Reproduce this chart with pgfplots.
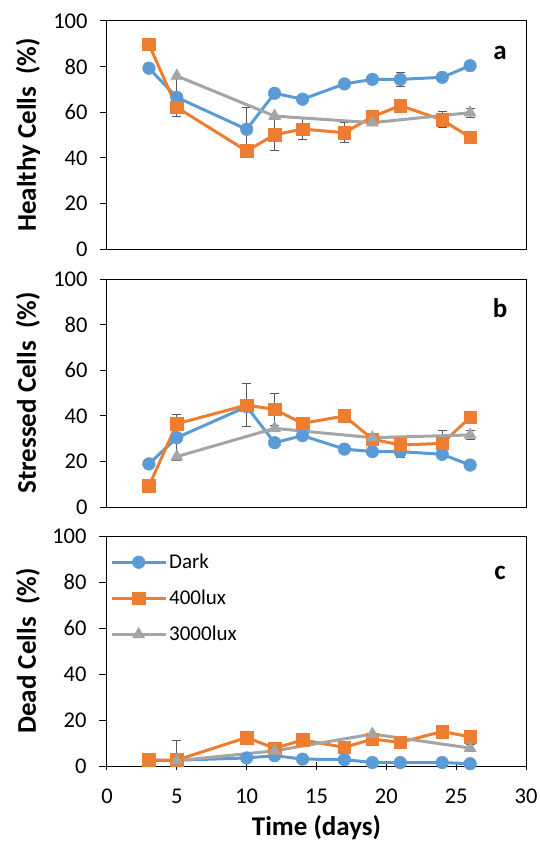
\documentclass[border=0pt]{standalone}
\usepackage{fontspec}
\setmainfont{Carlito}
\usepackage{pgfplots}
\pgfplotsset{compat=1.18}
\definecolor{cblue}{HTML}{5B9BD5}
\definecolor{corange}{HTML}{ED7D31}
\definecolor{cgray}{HTML}{A5A5A5}
\definecolor{errc}{HTML}{595959}
\tikzset{letter/.style={font=\bfseries\fontsize{27bp}{27bp}\selectfont, anchor=base}}
\pgfplotsset{
  panel/.style={
    scale only axis, width=419bp, height=228bp,
    xmin=0, xmax=30, ymin=0, ymax=100,
    ytick={0,20,...,100},
    axis line style={line width=1bp, black},
    every tick/.style={line width=1bp, black},
    ytick align=outside, ytick pos=left, xtick pos=bottom,
    major tick length=7bp,
    tick label style={font=\fontsize{22.5bp}{24bp}\selectfont},
    yticklabel style={xshift=-9bp},
    /pgf/number format/assume math mode=true,
    label style={font=\bfseries\fontsize{27bp}{28bp}\selectfont},
    ylabel style={at={(axis description cs:-0.1885,0.5)}, anchor=center},
    clip=false,
    legend image code/.code={\draw[mark repeat=2,mark phase=2,##1] plot coordinates {(0bp,0bp)(27bp,0bp)(54bp,0bp)};},
  },
  sdark/.style={color=cblue, line width=3bp, mark=*, mark size=6.3bp, mark options={solid, fill=cblue, draw=cblue, line width=0.5bp}},
  sorange/.style={color=corange, line width=3bp, mark=square*, mark size=6.3bp, mark options={solid, fill=corange, draw=corange, line width=0.5bp}},
  sgray/.style={color=cgray, line width=3bp, mark=triangle*, mark size=7bp, mark options={solid, fill=cgray, draw=cgray, line width=0.5bp}},
  errs/.style={forget plot, only marks, mark=none,
    error bars/.cd, y dir=both, y explicit,
    error bar style={draw=errc, line width=1bp},
    error mark options={rotate=90, mark size=4.5bp, draw=errc, line width=1bp}},
}
\begin{document}
\begin{tikzpicture}
\useasboundingbox (-107bp,21bp) rectangle (433bp,-825bp);
% ---------------- panel a
\begin{axis}[panel, at={(0,0)}, anchor=north west, xtick=\empty,
  ylabel={Healthy Cells\ \ (\%)}]
\addplot[errs] coordinates {(5,66.5) +- (0,8.5) (10,52.5) +- (0,9.6) (21,74.4) +- (0,3)};
\addplot[errs] coordinates {(12,50.1) +- (0,6.7) (14,52.6) +- (0,4.5) (17,51) +- (0,4.3) (24,56.6) +- (0,3.5)};
\addplot[errs] coordinates {(26,59.8) +- (0,2)};
\addplot[sdark] coordinates {(3,79.3) (5,66.5) (10,52.5) (12,68.3) (14,65.7) (17,72.4) (19,74.4) (21,74.4) (24,75.3) (26,80.4)};
\addplot[sorange] coordinates {(3,89.8) (5,62.1) (10,43) (12,50.1) (14,52.6) (17,51) (19,58) (21,62.9) (24,56.6) (26,49)};
\addplot[sgray] coordinates {(5,75.9) (12,58.3) (19,55.4) (26,59.8)};
\node[letter] at (rel axis cs:0.938,0.833) {a};
\end{axis}
% ---------------- panel b
\begin{axis}[panel, at={(0,-258bp)}, anchor=north west, xtick=\empty,
  ylabel={Stressed Cells\ \ (\%)}]
\addplot[errs] coordinates {(5,30.4) +- (0,10.2) (21,24.3) +- (0,2.5)};
\addplot[errs] coordinates {(10,44.7) +- (0,9.5) (12,42.8) +- (0,7) (24,27.9) +- (0,5.5)};
\addplot[errs] coordinates {(26,31.6) +- (0,2)};
\addplot[sdark] coordinates {(3,18.9) (5,30.4) (10,44) (12,28.2) (14,31.3) (17,25.4) (19,24.3) (21,24.3) (24,23.1) (26,18.4)};
\addplot[sorange] coordinates {(3,9.2) (5,36.5) (10,44.7) (12,42.8) (14,36.7) (17,39.9) (19,29.8) (21,27.2) (24,27.9) (26,39.3)};
\addplot[sgray] coordinates {(5,22.1) (12,34.5) (19,30.4) (26,31.6)};
\node[letter] at (rel axis cs:0.938,0.829) {b};
\end{axis}
% ---------------- panel c
\begin{axis}[panel, at={(0,-515bp)}, anchor=north west, height=230bp,
  xtick={0,5,...,30}, xtick align=center, major tick length=8bp,
  ytick align=outside,
  xticklabel style={anchor=base, yshift=-33bp},
  xlabel={Time (days)},
  xlabel style={at={(axis description cs:0.5,-0.301)}, anchor=base},
  ylabel={Dead Cells\ \ (\%)},
  legend style={at={(rel axis cs:0,1)}, anchor=north west, yshift=-14bp, draw=none, fill=none,
    font=\fontsize{21bp}{24bp}\selectfont, row sep=16bp},
  legend cell align=left]
\addplot[errs] coordinates {(21,1.5) +- (0,1.5)};
\addplot[errs] coordinates {(5,2.3) += (0,9) -= (0,2.3) (26,7.8) +- (0,1.5)};
\addplot[sdark] coordinates {(3,2.5) (5,2.5) (10,3.5) (12,4.5) (14,3) (17,2.8) (19,1.5) (21,1.5) (24,1.5) (26,1)};
\addplot[sorange] coordinates {(3,2.6) (5,2.6) (10,12.4) (12,7.7) (14,11.3) (17,8.1) (19,11.7) (21,10.3) (24,15) (26,12.7)};
\addplot[sgray] coordinates {(5,2.3) (12,6.6) (19,13.9) (26,7.8)};
\legend{Dark,400lux,3000lux}
\node[letter] at (rel axis cs:0.938,0.809) {c};
\end{axis}
\end{tikzpicture}
\end{document}
